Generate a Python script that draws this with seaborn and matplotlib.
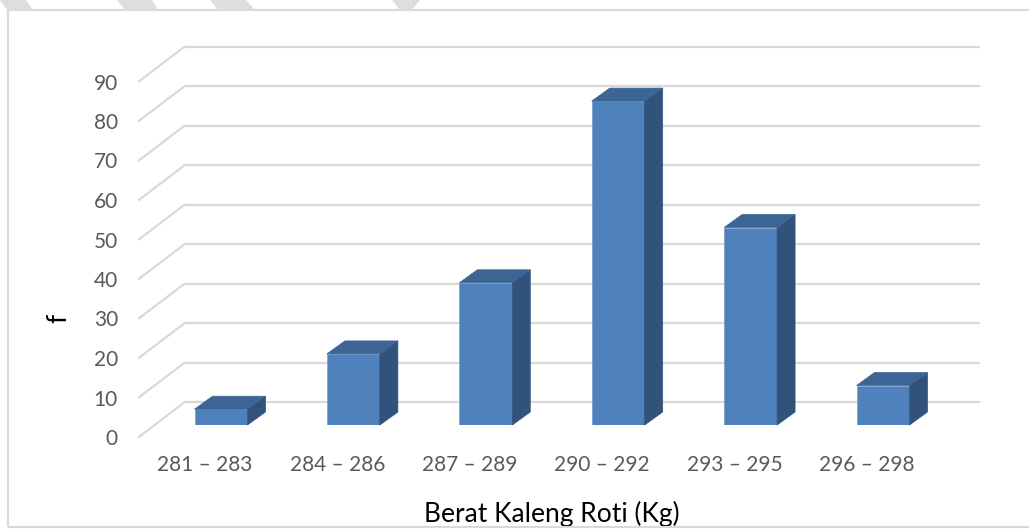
import matplotlib
matplotlib.use("Agg")
import matplotlib.pyplot as plt
import matplotlib.transforms as mtransforms
from matplotlib.patches import Polygon, Rectangle
from matplotlib.lines import Line2D
import seaborn as sns
import pandas as pd

# data
categories = ["281 – 283", "284 – 286", "287 – 289", "290 – 292", "293 – 295", "296 – 298"]
frequencies = [4, 18, 36, 82, 50, 10]
y_ticks = list(range(0, 100, 10))

FRONT = "#4F81BD"
TOP = "#3C6595"
SIDE = "#30527B"
GRID = "#D9D9D9"
LABEL = "#595959"

sns.set_theme(style="white")
plt.rcParams["font.family"] = ["Lato", "DejaVu Sans"]

W, H = 1029, 529
fig = plt.figure(figsize=(W / 100, H / 100), dpi=100)
ax = fig.add_axes([154.8 / W, 104 / H, 794.4 / W, 355.5 / H])

df = pd.DataFrame({"berat": categories, "f": frequencies})
sns.barplot(data=df, x="berat", y="f", color=FRONT, saturation=1, width=0.4,
            edgecolor="#7FA3D1", linewidth=0.6, ax=ax, zorder=3)
ax.set_xlim(-0.5, 5.5)
ax.set_ylim(0, 90)
for s in ax.spines.values():
    s.set_visible(False)

# 3d offsets in pixels
BACK = (30, 23)
FRONT_EDGE = (-16, -12)
DEPTH = (18, 13)

ident = mtransforms.IdentityTransform()
back_tr = ax.transData + mtransforms.Affine2D().translate(*BACK)

# back wall gridlines + side wall diagonals
for v in y_ticks:
    ax.plot([-0.5, 5.5], [v, v], transform=back_tr, color=GRID, lw=1.6,
            clip_on=False, zorder=1)
    px, py = ax.transData.transform((-0.5, v))
    fig.add_artist(Line2D([px + FRONT_EDGE[0], px + BACK[0]],
                          [py + FRONT_EDGE[1], py + BACK[1]],
                          transform=ident, color=GRID, lw=1.6, zorder=1))

# top and side faces of the bars
for p in ax.patches:
    x0, w, h = p.get_x(), p.get_width(), p.get_height()
    X0, Y0 = ax.transData.transform((x0, 0))
    X1, Y1 = ax.transData.transform((x0 + w, h))
    dx, dy = DEPTH
    top = Polygon([(X0, Y1), (X1, Y1), (X1 + dx, Y1 + dy), (X0 + dx, Y1 + dy)],
                  closed=True, transform=ident, fc=TOP, ec=TOP, lw=0.5, zorder=4)
    side = Polygon([(X1, Y0), (X1 + dx, Y0 + dy), (X1 + dx, Y1 + dy), (X1, Y1)],
                   closed=True, transform=ident, fc=SIDE, ec=SIDE, lw=0.5, zorder=4)
    fig.add_artist(side)
    fig.add_artist(top)

# ticks
ax.set_yticks(y_ticks)
ax.tick_params(axis="y", length=0, pad=26.5, labelsize=15, labelcolor=LABEL)
ax.tick_params(axis="x", length=0, pad=21.5, labelsize=15, labelcolor=LABEL)
ax.set_xlabel("Berat Kaleng Roti (Kg)", fontsize=19, color="black", labelpad=19)
ax.set_ylabel("f", fontsize=19, color="black")
ax.yaxis.set_label_coords(-0.105, 0.301)

for lbl in ax.get_yticklabels():
    lbl.set_transform(lbl.get_transform() + mtransforms.Affine2D().translate(0, FRONT_EDGE[1]))
for lbl in ax.get_xticklabels():
    lbl.set_transform(lbl.get_transform() + mtransforms.Affine2D().translate(FRONT_EDGE[0], 0))

# chart frame and page stripes
fig.patches.append(Rectangle((8, 2), W, H - 12, transform=ident, fill=False,
                             ec="#D9D9D9", lw=1.5))
for a, b, c, d in [(0, 26, 7, 33), (117, 152, 125, 158), (210, 246, 218, 255), (392, 420, 400, 412)]:
    fig.patches.append(Polygon([(a, H), (b, H), (d, H - 10), (c, H - 10)],
                               closed=True, transform=ident, fc="#DEDEDE", ec="none"))

fig.savefig("out.png", dpi=100)
